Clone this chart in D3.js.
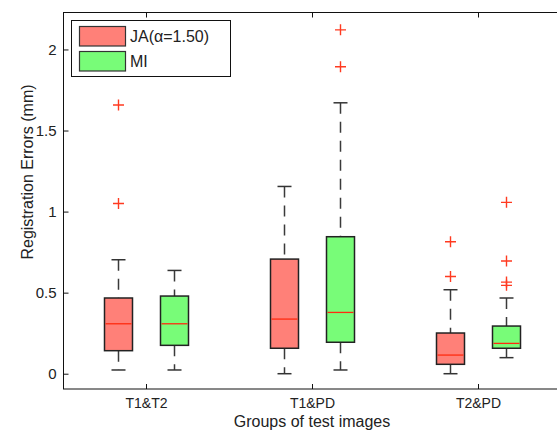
<!DOCTYPE html>
<meta charset="utf-8">
<style>
  body { margin: 0; background: #fff; }
  text { font-family: "Liberation Sans", Arial, sans-serif; fill: #222; }
</style>
<body>
<script src="https://cdn.jsdelivr.net/npm/d3@7/dist/d3.min.js"></script>
<script>

var width = 557,
    height = 432;

var groups = ["T1&T2", "T1&PD", "T2&PD"];
var seriesNames = ["JA(\u03b1=1.50)", "MI"];
var seriesColors = ["#ff8078", "#78fc78"];

// [lower whisker, Q1, median, Q3, upper whisker] per group
var jaStats = [
  [0.023, 0.142, 0.308, 0.467, 0.703],
  [0.0, 0.157, 0.337, 0.707, 1.155],
  [0.0, 0.058, 0.115, 0.251, 0.518]
];
var miStats = [
  [0.023, 0.175, 0.308, 0.479, 0.637],
  [0.023, 0.194, 0.378, 0.845, 1.671],
  [0.099, 0.157, 0.187, 0.294, 0.467]
];
var jaOutliers = [[1.657, 1.05], [], [0.814, 0.60]];
var miOutliers = [[], [2.121, 1.893], [1.057, 0.695, 0.565, 0.545]];

var yTicks = [0, 0.5, 1, 1.5, 2];

var margin = {left: 63, top: 12.5, right: 561, bottom: 389};

var svg = d3.select("body").append("svg")
    .attr("width", width)
    .attr("height", height);

var x = d3.scaleLinear().domain([0.5, 3.5]).range([margin.left, margin.right]);
var y = d3.scaleLinear().domain([-0.0943, 2.228]).range([margin.bottom, margin.top]);

var boxW = 28, capW = 14, offset = 0.169;

// frame
svg.append("rect")
    .attr("x", margin.left + 0.5)
    .attr("y", margin.top)
    .attr("width", margin.right - margin.left)
    .attr("height", margin.bottom - margin.top)
    .attr("fill", "none")
    .attr("stroke", "#111")
    .attr("stroke-width", 1);

// axes with inward ticks
var xAxis = d3.axisBottom(x).tickValues([1, 2, 3])
    .tickFormat(function(d) { return groups[d - 1]; })
    .tickSizeInner(-5).tickSizeOuter(0).tickPadding(9);
var gx = svg.append("g")
    .attr("transform", "translate(0," + margin.bottom + ")")
    .call(xAxis);
gx.select(".domain").remove();
gx.selectAll("line").attr("stroke", "#111");
gx.selectAll("text").style("font-size", "14px").attr("fill", "#222");

var xTop = d3.axisTop(x).tickValues([1, 2, 3]).tickFormat("")
    .tickSizeInner(-5).tickSizeOuter(0);
var gxt = svg.append("g")
    .attr("transform", "translate(0," + margin.top + ")")
    .call(xTop);
gxt.select(".domain").remove();
gxt.selectAll("line").attr("stroke", "#111");

var yAxis = d3.axisLeft(y).tickValues(yTicks)
    .tickFormat(d3.format("")).tickSizeInner(-5).tickSizeOuter(0).tickPadding(7);
var gy = svg.append("g")
    .attr("transform", "translate(" + (margin.left + 0.5) + ",0)")
    .call(yAxis);
gy.select(".domain").remove();
gy.selectAll("line").attr("stroke", "#111");
gy.selectAll("text").style("font-size", "15px").attr("fill", "#222");

// boxes
var series = [
  {stats: jaStats, outliers: jaOutliers, color: seriesColors[0], off: -offset},
  {stats: miStats, outliers: miOutliers, color: seriesColors[1], off: offset}
];

series.forEach(function(s) {
  s.stats.forEach(function(st, i) {
    var cx = Math.round(x(i + 1 + s.off)) + 0.5;
    var g = svg.append("g");

    // whiskers
    [[st[0], st[1]], [st[3], st[4]]].forEach(function(w) {
      g.append("line")
          .attr("x1", cx).attr("x2", cx)
          .attr("y1", y(w[1])).attr("y2", y(w[0]))
          .attr("stroke", "#3a3a3a")
          .attr("stroke-width", 1.5)
          .attr("stroke-dasharray", "11,8");
    });
    [st[0], st[4]].forEach(function(v) {
      g.append("line")
          .attr("x1", cx - capW / 2).attr("x2", cx + capW / 2)
          .attr("y1", y(v)).attr("y2", y(v))
          .attr("stroke", "#333")
          .attr("stroke-width", 1.5);
    });

    g.append("rect")
        .attr("x", cx - boxW / 2)
        .attr("y", y(st[3]))
        .attr("width", boxW)
        .attr("height", y(st[1]) - y(st[3]))
        .attr("fill", s.color)
        .attr("stroke", "#222")
        .attr("stroke-width", 1.5);

    g.append("line")
        .attr("x1", cx - boxW / 2 + 1).attr("x2", cx + boxW / 2 - 1)
        .attr("y1", y(st[2])).attr("y2", y(st[2]))
        .attr("stroke", "#ff2a10")
        .attr("stroke-width", 1.3);

    s.outliers[i].forEach(function(v) {
      var py = y(v);
      g.append("path")
          .attr("d", "M" + (cx - 5.5) + "," + py + "H" + (cx + 5.5) +
                     "M" + cx + "," + (py - 5.5) + "V" + (py + 5.5))
          .attr("stroke", "#ff3a20")
          .attr("stroke-width", 1.4)
          .attr("fill", "none");
    });
  });
});

// axis titles
svg.append("text")
    .attr("transform", "translate(33,172) rotate(-90)")
    .attr("text-anchor", "middle")
    .attr("font-size", 16)
    .text("Registration Errors (mm)");

svg.append("text")
    .attr("x", 312)
    .attr("y", 427)
    .attr("text-anchor", "middle")
    .attr("font-size", 16)
    .text("Groups of test images");

// legend
var legend = svg.append("g");
legend.append("rect")
    .attr("x", 71.5).attr("y", 20.5)
    .attr("width", 159).attr("height", 56)
    .attr("fill", "#fff")
    .attr("stroke", "#111");

seriesNames.forEach(function(name, i) {
  legend.append("rect")
      .attr("x", 79.5).attr("y", 26.5 + i * 25)
      .attr("width", 46).attr("height", 19.5)
      .attr("fill", seriesColors[i])
      .attr("stroke", "#333")
      .attr("stroke-width", 1.2);
  legend.append("text")
      .attr("x", 130).attr("y", 42 + i * 25)
      .attr("font-size", 16)
      .text(name);
});

</script>
</body>
